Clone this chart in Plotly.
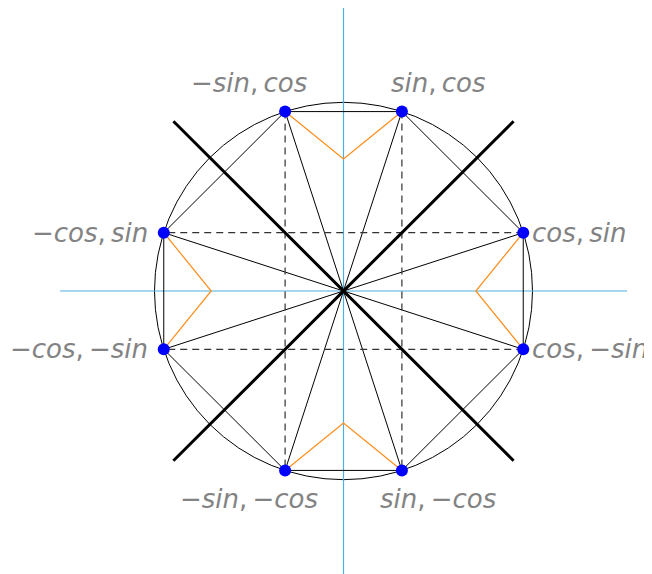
import plotly.graph_objects as go

# Points on the unit circle (angle 18 deg family)
point_x = [0.309, 0.951, 0.951, 0.309, -0.309, -0.951, -0.951, -0.309]
point_y = [0.951, 0.309, -0.309, -0.951, -0.951, -0.309, 0.309, 0.951]

# Labels
label_text = ["sin, cos", "cos, sin", "cos, −sin", "sin, −cos",
              "−sin, −cos", "−cos, −sin", "−cos, sin", "−sin, cos"]
label_x = [0.5, 1.0, 1.0, 0.5, -0.5, -1.0, -1.0, -0.5]
label_y = [1.1, 0.309, -0.309, -1.1, -1.1, -0.309, 0.309, 1.1]
label_anchor = ["center", "left", "left", "center", "center", "right", "right", "center"]

# Orange "V" tips
tip_x = [0.0, 0.7, 0.0, -0.7]
tip_y = [0.7, 0.0, -0.7, 0.0]

diag_half = 0.9
axis_half = 1.5

BLUE_AXIS = "#4fb0e0"
ORANGE = "#ff8c1a"


def fmt(t):
    out = []
    for part in t.split(", "):
        if part.startswith("−"):
            out.append("−<i>" + part[1:] + "</i>")
        else:
            out.append("<i>" + part + "</i>")
    return ",\u2009".join(out)


fig = go.Figure()

# axes
fig.add_trace(go.Scatter(x=[-axis_half, axis_half], y=[0, 0], mode="lines",
                         line=dict(color=BLUE_AXIS, width=1.2), hoverinfo="skip"))
fig.add_trace(go.Scatter(x=[0, 0], y=[-axis_half, axis_half], mode="lines",
                         line=dict(color=BLUE_AXIS, width=1.2), hoverinfo="skip"))

# circle
fig.add_shape(type="circle", xref="x", yref="y", x0=-1, y0=-1, x1=1, y1=1,
              line=dict(color="black", width=1), layer="below")

# octagon
fig.add_trace(go.Scatter(x=point_x + [point_x[0]], y=point_y + [point_y[0]], mode="lines",
                         line=dict(color="black", width=1), hoverinfo="skip"))

# spokes
sx, sy = [], []
for x, y in zip(point_x, point_y):
    sx += [0, x, None]
    sy += [0, y, None]
fig.add_trace(go.Scatter(x=sx, y=sy, mode="lines", line=dict(color="black", width=1),
                         hoverinfo="skip"))

# dashed projections
dx, dy = [], []
for i, j in [(0, 3), (7, 4), (1, 6), (2, 5)]:
    dx += [point_x[i], point_x[j], None]
    dy += [point_y[i], point_y[j], None]
fig.add_trace(go.Scatter(x=dx, y=dy, mode="lines",
                         line=dict(color="#333333", width=1.2, dash="7px,5px"),
                         hoverinfo="skip"))

# orange Vs
ox, oy = [], []
pairs = [(7, 0), (1, 2), (3, 4), (5, 6)]
for (a, b), tx, ty in zip(pairs, tip_x, tip_y):
    ox += [point_x[a], tx, point_x[b], None]
    oy += [point_y[a], ty, point_y[b], None]
fig.add_trace(go.Scatter(x=ox, y=oy, mode="lines", line=dict(color=ORANGE, width=1.2),
                         hoverinfo="skip"))

# thick diagonals
fig.add_trace(go.Scatter(x=[-diag_half, diag_half, None, -diag_half, diag_half],
                         y=[-diag_half, diag_half, None, diag_half, -diag_half],
                         mode="lines", line=dict(color="black", width=3), hoverinfo="skip"))

# points
fig.add_trace(go.Scatter(x=point_x, y=point_y, mode="markers",
                         marker=dict(color="#0000ff", size=12, line=dict(width=0)),
                         hoverinfo="skip"))

for t, x, y, a in zip(label_text, label_x, label_y, label_anchor):
    shift = 0
    if a == "left":
        shift = -3
    elif a == "right":
        shift = -5
    fig.add_annotation(x=x, y=y, xref="x", yref="y", text=fmt(t), showarrow=False,
                       xanchor=a, yanchor="middle", xshift=shift,
                       font=dict(family="DejaVu Sans", size=26, color="#838383"))

fig.update_layout(
    width=644, height=566,
    margin=dict(l=52, r=25, t=0, b=0),
    plot_bgcolor="white", paper_bgcolor="white",
    showlegend=False,
    xaxis=dict(range=[-axis_half, axis_half], visible=False),
    yaxis=dict(range=[-axis_half, axis_half], visible=False),
)

fig.write_html("out.html")
